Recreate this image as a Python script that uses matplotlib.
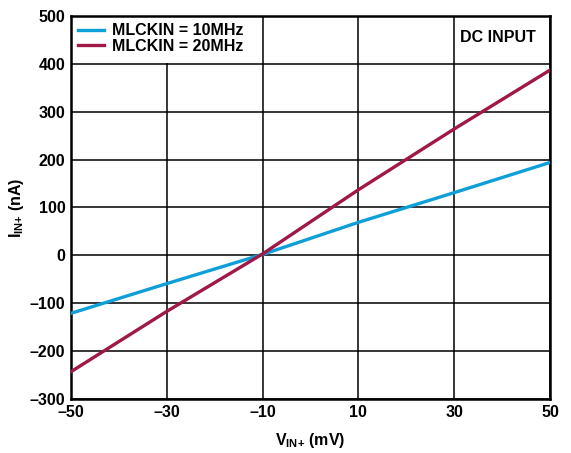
import numpy as np
import matplotlib
matplotlib.use("Agg")
import matplotlib.pyplot as plt

plt.rcParams['font.family'] = ['Liberation Sans', 'DejaVu Sans']
plt.rcParams['font.weight'] = 'bold'
plt.rcParams['mathtext.fontset'] = 'custom'
plt.rcParams['mathtext.rm'] = 'Liberation Sans:bold'
plt.rcParams['mathtext.it'] = 'Liberation Sans:bold'
plt.rcParams['mathtext.bf'] = 'Liberation Sans:bold'

# data
vin = [-50, -30, -10, 10, 30, 50]
i_10mhz = [-121, -59, 2, 69, 131, 194]
i_20mhz = [-243, -117, 3, 137, 264, 387]

xticks = [-50, -30, -10, 10, 30, 50]
yticks = [-300, -200, -100, 0, 100, 200, 300, 400, 500]

blue = '#0f9fd8'
red = '#a01848'
fs = 11.5

fig = plt.figure(figsize=(5.71, 4.53), dpi=100)
ax = fig.add_axes([0.1243, 0.1192, 0.9632 - 0.1243, 0.9647 - 0.1192])

ax.plot(vin, i_10mhz, color=blue, lw=2.4, label='MLCKIN = 10MHz', zorder=3)
ax.plot(vin, i_20mhz, color=red, lw=2.4, label='MLCKIN = 20MHz', zorder=3)

ax.set_xlim(-50, 50)
ax.set_ylim(-300, 500)
ax.set_xticks(xticks)
ax.set_yticks(yticks)
ax.set_xticklabels([str(v).replace('-', '\u2013') for v in xticks])
ax.set_yticklabels([str(v).replace('-', '\u2013') for v in yticks])
ax.tick_params(length=0, labelsize=fs, pad=4)
for lab in ax.get_xticklabels() + ax.get_yticklabels():
    lab.set_fontweight('bold')

ax.grid(True, color='black', lw=1.1, zorder=1)
for s in ax.spines.values():
    s.set_linewidth(1.8)

ax.set_xlabel(r'V$_{\mathrm{IN{+}}}$ (mV)', fontsize=fs, fontweight='bold', labelpad=8)
ax.set_ylabel(r'I$_{\mathrm{IN{+}}}$ (nA)', fontsize=fs, fontweight='bold', labelpad=3)

# legend sits on a white patch that hides the grid
ax.fill_between([-49.6, -10.3], 400.8, 499.5, color='white', zorder=2, lw=0)
leg = ax.legend(loc='upper left', frameon=False, handlelength=1.6,
                handletextpad=0.5, borderaxespad=0.05, labelspacing=0.05,
                prop={'weight': 'bold', 'size': fs})

ax.text(0.97, 0.945, 'DC INPUT', transform=ax.transAxes, ha='right', va='center',
        fontsize=fs, fontweight='bold')

fig.savefig('out.png', dpi=100)
